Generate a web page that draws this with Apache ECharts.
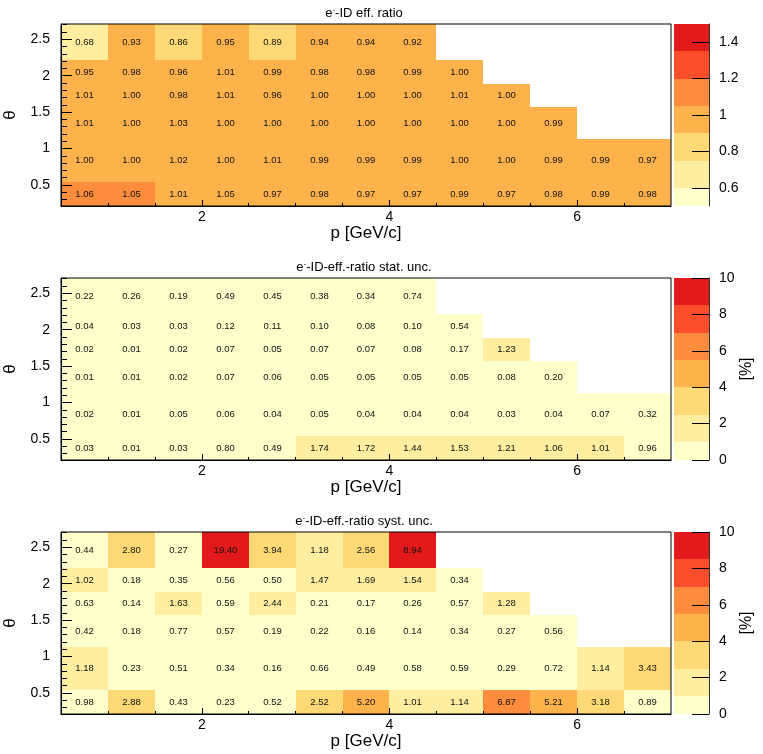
<!DOCTYPE html>
<html>
<head>
<meta charset="utf-8">
<style>html, body { margin: 0; padding: 0; background: #fff; }</style>
</head>
<body>
<div id="chart" style="width: 763px; height: 754px;"></div>

<script src="https://cdn.jsdelivr.net/npm/echarts@6/dist/echarts.min.js"></script>
<script>
    // bin edges
    var pEdges = [0.5, 1.0, 1.5, 2.0, 2.5, 3.0, 3.5, 4.0, 4.5, 5.0, 5.5, 6.0, 6.5, 7.0];
    var thetaEdges = [0.21, 0.54, 1.13, 1.57, 1.88, 2.21, 2.71];

    // ticks
    var pTicks = [2, 4, 6];
    var pMinorTicks = [1, 1.5, 2.5, 3, 3.5, 4.5, 5, 5.5, 6.5];
    var thetaTicks = [0.5, 1, 1.5, 2, 2.5];
    var thetaMinorTicks = [0.3, 0.4, 0.6, 0.7, 0.8, 0.9, 1.1, 1.2, 1.3, 1.4, 1.6, 1.7, 1.8, 1.9,
                           2.1, 2.2, 2.3, 2.4, 2.6, 2.7];
    var ratioTicks = [0.6, 0.8, 1, 1.2, 1.4];
    var uncTicks = [0, 2, 4, 6, 8, 10];

    // palette levels (z ranges of the colour bars)
    var ratioRange = [0.5, 1.5];
    var ratioLevels = [0.6, 0.75, 0.9, 1.05, 1.2, 1.35];
    var uncRange = [0, 10];
    var uncLevels = [1, 2.5, 4, 5.5, 7, 8.5];
    var palette = ['#ffffcc', '#ffeda0', '#fed976', '#feb24c', '#fd8d3c', '#fc4e2a', '#e31a1c'];

    // values, one row per theta bin, bottom row first
    var effRatio = [
        [1.06, 1.052, 1.01, 1.046, 0.97, 0.98, 0.97, 0.97, 0.99, 0.97, 0.98, 0.99, 0.98],
        [1.00, 1.00, 1.02, 1.00, 1.01, 0.99, 0.99, 0.99, 1.00, 1.00, 0.99, 0.99, 0.97],
        [1.01, 1.00, 1.03, 1.00, 1.00, 1.00, 1.00, 1.00, 1.00, 1.00, 0.99],
        [1.01, 1.00, 0.98, 1.01, 0.96, 1.00, 1.00, 1.00, 1.01, 1.00],
        [0.95, 0.98, 0.96, 1.01, 0.99, 0.98, 0.98, 0.99, 1.00],
        [0.68, 0.93, 0.86, 0.95, 0.89, 0.94, 0.94, 0.92]
    ];
    var statUnc = [
        [0.03, 0.01, 0.03, 0.80, 0.49, 1.74, 1.72, 1.44, 1.53, 1.21, 1.06, 1.01, 0.96],
        [0.02, 0.01, 0.05, 0.06, 0.04, 0.05, 0.04, 0.04, 0.04, 0.03, 0.04, 0.07, 0.32],
        [0.01, 0.01, 0.02, 0.07, 0.06, 0.05, 0.05, 0.05, 0.05, 0.08, 0.20],
        [0.02, 0.01, 0.02, 0.07, 0.05, 0.07, 0.07, 0.08, 0.17, 1.23],
        [0.04, 0.03, 0.03, 0.12, 0.11, 0.10, 0.08, 0.10, 0.54],
        [0.22, 0.26, 0.19, 0.49, 0.45, 0.38, 0.34, 0.74]
    ];
    var systUnc = [
        [0.98, 2.88, 0.43, 0.23, 0.52, 2.52, 5.20, 1.01, 1.14, 6.87, 5.21, 3.18, 0.89],
        [1.18, 0.23, 0.51, 0.34, 0.16, 0.66, 0.49, 0.58, 0.59, 0.29, 0.72, 1.14, 3.43],
        [0.42, 0.18, 0.77, 0.57, 0.19, 0.22, 0.16, 0.14, 0.34, 0.27, 0.56],
        [0.63, 0.14, 1.63, 0.59, 2.44, 0.21, 0.17, 0.26, 0.57, 1.28],
        [1.02, 0.18, 0.35, 0.56, 0.50, 1.47, 1.69, 1.54, 0.34],
        [0.44, 2.80, 0.27, 19.40, 3.94, 1.18, 2.56, 8.94]
    ];

    var titles = ['eff. ratio', '-eff.-ratio stat. unc.', '-eff.-ratio syst. unc.'];

    var FONT = '"Liberation Sans", Arial, sans-serif';
    var panelTop = [24, 278, 532];
    var panelH = 182;

    var myChart = echarts.init(document.getElementById('chart'));

    function cellData(rows) {
        var out = [];
        rows.forEach(function (row, j) {
            row.forEach(function (v, i) {
                out.push([pEdges[i], pEdges[i + 1], thetaEdges[j], thetaEdges[j + 1], v]);
            });
        });
        return out;
    }

    function bandData(range, levels) {
        var edges = [range[0]].concat(levels, [range[1]]);
        var out = [];
        for (var k = 0; k < edges.length - 1; k++) {
            out.push([0, 1, edges[k], edges[k + 1], k]);
        }
        return out;
    }

    function pieces(levels) {
        var out = [{ lt: levels[0], color: palette[0] }];
        for (var k = 0; k < levels.length - 1; k++) {
            out.push({ gte: levels[k], lt: levels[k + 1], color: palette[k + 1] });
        }
        out.push({ gte: levels[levels.length - 1], color: palette[levels.length] });
        return out;
    }

    function box(api) {
        var a = api.coord([api.value(0), api.value(3)]);
        var b = api.coord([api.value(1), api.value(2)]);
        var x0 = Math.round(a[0]), y0 = Math.round(a[1]);
        var x1 = Math.round(b[0]), y1 = Math.round(b[1]);
        return { x: x0, y: y0, width: x1 - x0, height: y1 - y0 };
    }

    function renderCell(params, api) {
        var r = box(api);
        return {
            type: 'group',
            children: [
                { type: 'rect', shape: r, style: { fill: api.visual('color') } },
                {
                    type: 'text',
                    x: r.x + r.width / 2,
                    y: r.y + r.height / 2,
                    style: {
                        text: api.value(4).toFixed(2),
                        fill: '#111',
                        fontSize: 9.5,
                        fontFamily: FONT,
                        align: 'center',
                        verticalAlign: 'middle'
                    }
                }
            ]
        };
    }

    function renderBand(params, api) {
        return { type: 'rect', shape: box(api), style: { fill: palette[api.value(4)] } };
    }

    var grid = [], xAxis = [], yAxis = [], series = [], graphic = [];
    var axisBlack = { color: '#000', width: 1 };

    // heat maps
    panelTop.forEach(function (top, i) {
        grid.push({ left: 61, top: top, width: 610, height: panelH, show: true,
                    borderColor: '#000', borderWidth: 1, z: 4, outerBoundsMode: 'none' });
        xAxis.push({
            gridIndex: i, type: 'value', min: 0.5, max: 7, position: 'bottom', z: 5,
            name: 'p [GeV/c]', nameLocation: 'middle', nameGap: 17,
            nameTextStyle: { fontSize: 17, color: '#000', fontFamily: FONT },
            axisLine: { show: true, onZero: false, lineStyle: axisBlack },
            axisTick: { show: true, inside: true, length: 6, customValues: pTicks, lineStyle: axisBlack },
            axisLabel: { customValues: pTicks, fontSize: 14, color: '#000', margin: 4, fontFamily: FONT },
            splitLine: { show: false }
        });
        xAxis.push({
            gridIndex: i, type: 'value', min: 0.5, max: 7, position: 'bottom', z: 5,
            axisLine: { show: false, onZero: false },
            axisTick: { show: true, inside: true, length: 3, customValues: pMinorTicks, lineStyle: axisBlack },
            axisLabel: { show: false },
            splitLine: { show: false }
        });
        yAxis.push({
            gridIndex: i, type: 'value', min: thetaEdges[0], max: thetaEdges[thetaEdges.length - 1],
            position: 'left', z: 5,
            name: 'θ', nameLocation: 'middle', nameGap: 42, nameRotate: 90,
            nameTextStyle: { fontSize: 17, color: '#000', fontFamily: FONT },
            axisLine: { show: true, onZero: false, lineStyle: axisBlack },
            axisTick: { show: true, inside: true, length: 11, customValues: thetaTicks, lineStyle: axisBlack },
            axisLabel: { customValues: thetaTicks, fontSize: 14, color: '#000', margin: 11, fontFamily: FONT },
            splitLine: { show: false }
        });
        yAxis.push({
            gridIndex: i, type: 'value', min: thetaEdges[0], max: thetaEdges[thetaEdges.length - 1],
            position: 'left', z: 5,
            axisLine: { show: false, onZero: false },
            axisTick: { show: true, inside: true, length: 6, customValues: thetaMinorTicks, lineStyle: axisBlack },
            axisLabel: { show: false },
            splitLine: { show: false }
        });
        graphic.push({
            type: 'text', x: 364, y: top - 11,
            style: {
                text: '{b|e}{s|-}{b|-ID' + (i === 0 ? ' ' : '') + titles[i] + '}',
                align: 'center', verticalAlign: 'middle',
                rich: {
                    b: { fontSize: 13, fontFamily: FONT, fill: '#000', lineHeight: 15 },
                    s: { fontSize: 8, fontFamily: FONT, fill: '#000', verticalAlign: 'top', lineHeight: 15, padding: [0, 0, 6, 0] }
                }
            }
        });
    });
    [effRatio, statUnc, systUnc].forEach(function (rows, i) {
        series.push({
            type: 'custom', name: titles[i], xAxisIndex: 2 * i, yAxisIndex: 2 * i, z: 1,
            renderItem: renderCell, data: cellData(rows), clip: true
        });
    });

    // colour bars
    panelTop.forEach(function (top, i) {
        var range = i === 0 ? ratioRange : uncRange;
        var ticks = i === 0 ? ratioTicks : uncTicks;
        grid.push({ left: 674, top: top, width: 35, height: panelH, outerBoundsMode: 'none' });
        xAxis.push({ gridIndex: 3 + i, type: 'value', min: 0, max: 1, show: false });
        yAxis.push({
            gridIndex: 3 + i, type: 'value', min: range[0], max: range[1], position: 'right', z: 5,
            name: i === 0 ? '' : '[%]', nameLocation: 'middle', nameGap: 30, nameRotate: 90,
            nameTextStyle: { fontSize: 16, color: '#000', fontFamily: FONT },
            axisLine: { show: true, onZero: false, lineStyle: { color: '#333', width: 1 } },
            axisTick: { show: true, inside: true, length: 17, customValues: ticks, lineStyle: axisBlack },
            axisLabel: { customValues: ticks, fontSize: 14, color: '#000', margin: 10, fontFamily: FONT },
            splitLine: { show: false }
        });
        series.push({
            type: 'custom', xAxisIndex: 6 + i, yAxisIndex: 6 + i, z: 1,
            renderItem: renderBand,
            data: bandData(range, i === 0 ? ratioLevels : uncLevels)
        });
    });

    var option = {
        animation: false,
        backgroundColor: '#fff',
        textStyle: { fontFamily: FONT },
        grid: grid,
        xAxis: xAxis,
        yAxis: yAxis,
        visualMap: [
            { type: 'piecewise', show: false, dimension: 4, seriesIndex: [0], pieces: pieces(ratioLevels) },
            { type: 'piecewise', show: false, dimension: 4, seriesIndex: [1, 2], pieces: pieces(uncLevels) }
        ],
        graphic: graphic,
        series: series
    };

    myChart.setOption(option);
</script>
</body>
</html>
